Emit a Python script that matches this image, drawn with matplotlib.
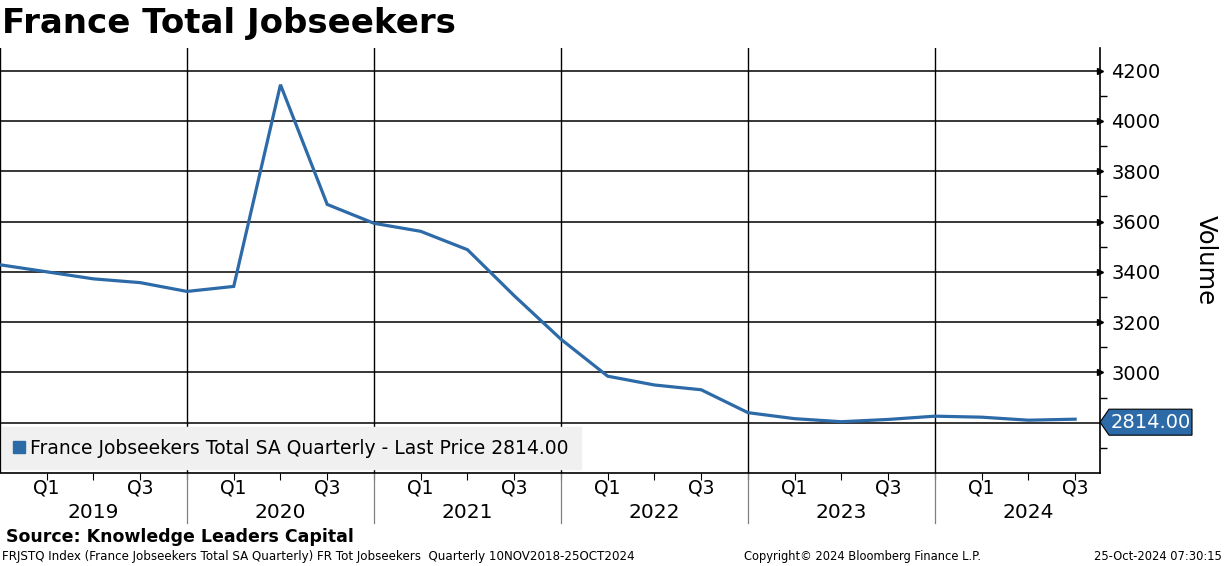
import matplotlib
matplotlib.use('Agg')
import matplotlib.pyplot as plt
import matplotlib.transforms as mtransforms
from matplotlib.patches import Polygon, Patch
import numpy as np

plt.rcParams.update({
    'font.family': 'DejaVu Sans',
    'font.size': 13,
})

# quarterly values, plotted at quarter end (2018Q4 ... 2024Q3)
quarters = ['2018Q4',
            '2019Q1', '2019Q2', '2019Q3', '2019Q4',
            '2020Q1', '2020Q2', '2020Q3', '2020Q4',
            '2021Q1', '2021Q2', '2021Q3', '2021Q4',
            '2022Q1', '2022Q2', '2022Q3', '2022Q4',
            '2023Q1', '2023Q2', '2023Q3', '2023Q4',
            '2024Q1', '2024Q2', '2024Q3']
jobseekers = [3428,
              3400, 3372, 3357, 3322,
              3342, 4144, 3668, 3593,
              3561, 3488, 3305, 3132,
              2985, 2950, 2931, 2840,
              2816, 2804, 2813, 2826,
              2822, 2810, 2814]
years = [2019, 2020, 2021, 2022, 2023, 2024]
y_ticks = [3000, 3200, 3400, 3600, 3800, 4000, 4200]
last_price = 2814.00

# quarter end as decimal year
xq = np.array([int(q[:4]) + int(q[-1]) / 4 for q in quarters])

blue = '#2d6aa8'

fig = plt.figure(figsize=(12.24, 5.66), dpi=100)
ax = fig.add_axes([0.0, 0.1643, 0.8987, 0.7509])

ax.plot(xq, jobseekers, color=blue, lw=2.3, solid_joinstyle='miter', zorder=3)

ax.set_xlim(2019.0, 2024.883)
ax.set_ylim(2600, 4290)

# horizontal grid every 200, vertical grid at year boundaries
for v in [2800] + y_ticks:
    ax.axhline(v, color='black', lw=1.1, zorder=1)
for yr in years:
    ax.axvline(yr, color='black', lw=1.0, zorder=1)

for s in ['top', 'left']:
    ax.spines[s].set_visible(False)
ax.spines['right'].set_linewidth(1.2)
ax.spines['bottom'].set_linewidth(1.2)

# right axis
ax.yaxis.tick_right()
ax.yaxis.set_label_position('right')
ax.set_yticks(y_ticks)
ax.set_yticks(np.arange(2700, 4300, 100), minor=True)
ax.tick_params(axis='y', which='major', length=0, pad=8, labelsize=14)
ax.tick_params(axis='y', which='minor', length=5, width=1.0, direction='out')
ax.plot(np.ones(len(y_ticks)), y_ticks, marker='>', ms=4, color='black', ls='none',
        transform=ax.get_yaxis_transform(), clip_on=False, zorder=4)
ax.set_ylabel('Volume', fontsize=17.5, rotation=270, labelpad=41)

# x axis: quarter ticks, Q1/Q3 labels, year labels
ax.set_xticks(np.arange(2019.25, 2024.8, 0.25), minor=True)
ax.set_xticks([])
ax.tick_params(axis='x', which='minor', length=5, width=0.8, direction='out')
xtrans = ax.get_xaxis_transform()
for yr in years:
    ax.text(yr + 0.25, -0.035, 'Q1', transform=xtrans, ha='center', va='center', fontsize=13.5)
    ax.text(yr + 0.75, -0.035, 'Q3', transform=xtrans, ha='center', va='center', fontsize=13.5)
    ax.text(yr + 0.5, -0.093, str(yr), transform=xtrans, ha='center', va='center', fontsize=14.5)
    if yr > 2019:
        ax.plot([yr, yr], [0, -0.118], color='#808080', lw=0.9, transform=xtrans,
                clip_on=False)

# legend
leg = ax.legend(handles=[Patch(color=blue)],
                labels=['France Jobseekers Total SA Quarterly - Last Price 2814.00'],
                loc='lower left', bbox_to_anchor=(0.0, 0.004), fontsize=13.5,
                frameon=True, fancybox=False, handlelength=0.6, handleheight=0.6,
                handletextpad=0.3, borderpad=0.62, borderaxespad=0.1)
leg.get_frame().set_facecolor('#f0f0f0')
leg.get_frame().set_edgecolor('#f0f0f0')
leg.get_frame().set_alpha(1)

# last price tag
tag_trans = fig.dpi_scale_trans + mtransforms.ScaledTranslation(
    1.0, last_price, ax.get_yaxis_transform())
tag = Polygon([(0.0, -0.03), (0.09, 0.10), (0.92, 0.10), (0.92, -0.16),
               (0.09, -0.16)], closed=True, facecolor=blue, edgecolor='black',
              lw=0.8, transform=tag_trans, clip_on=False, zorder=5)
ax.add_patch(tag)
ax.text(0.505, -0.03, f'{last_price:.2f}', transform=tag_trans, color='white',
        fontsize=14, ha='center', va='center', zorder=6)

# titles and footer
fig.text(0.002, 0.958, 'France Total Jobseekers', fontsize=24.5, fontweight='bold',
         ha='left', va='center')
fig.text(0.005, 0.052, 'Source: Knowledge Leaders Capital', fontsize=12.5,
         fontweight='bold', ha='left', va='center')
fig.text(0.002, 0.016,
         'FRJSTQ Index (France Jobseekers Total SA Quarterly) FR Tot Jobseekers  '
         'Quarterly 10NOV2018-25OCT2024', fontsize=8.6, ha='left', va='center')
fig.text(0.608, 0.016, 'Copyright\u00a9 2024 Bloomberg Finance L.P.', fontsize=8.3,
         ha='left', va='center')
fig.text(0.998, 0.016, '25-Oct-2024 07:30:15', fontsize=8.3, ha='right', va='center')

fig.savefig('out.png', dpi=100)
